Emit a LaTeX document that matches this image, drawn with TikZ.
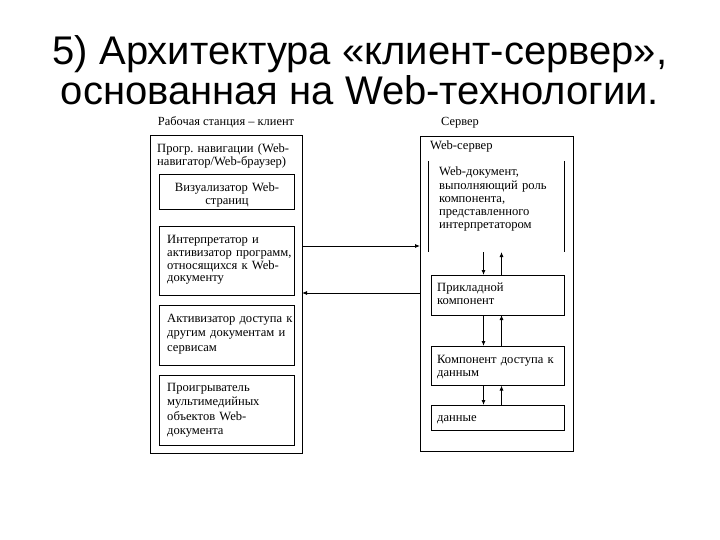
\documentclass[tikz,border=0pt]{standalone}
\usepackage{fontspec}
\setmainfont{Liberation Serif}
\newfontfamily\titlefont{Liberation Sans}
\usetikzlibrary{arrows.meta}
\frenchspacing
\tikzset{
  box/.style={draw, line width=0.8pt, inner sep=0pt, outer sep=0pt},
  txt/.style={inner sep=0pt, font=\fontsize{12.6}{#1}\selectfont, text width=180pt, align=left, anchor=base west},
  txt/.default=13,
  lbl/.style={inner sep=0pt, font=\fontsize{12.4}{13}\selectfont, anchor=base},
  link/.style={line width=0.8pt, -{Latex[length=5pt,width=4pt]}},
  ttl/.style={font=\titlefont\fontsize{40}{40}\selectfont, inner sep=0pt, anchor=base},
}
\begin{document}
\begin{tikzpicture}[x=1pt,y=-1pt]
\useasboundingbox (0,0) rectangle (720,540);
% title
\node[ttl] (t1) at (360,65) {5) Архитектура «клиент-сервер»,};
\node[ttl] (t2) at (360,105) {основанная на Web-технологии.};
% client
\node[lbl] (clabel) at (226,126) {Рабочая станция – клиент};
\node[box, minimum width=152pt, minimum height=318pt] (client) at (226,294) {};
\node[txt] (nav) at (157,153) {\frenchspacing Прогр. навигации (Web-\\навигатор/Web-браузер)};
\node[box, minimum width=135pt, minimum height=35pt] (vis) at (227,191.5) {};
\node[txt, text width=135pt, align=center, anchor=base] (visT) at (227,192) {Визуализатор Web-\\страниц};
\node[box, minimum width=135pt, minimum height=69pt] (interp) at (227,260.5) {};
\node[txt=12.8] (interpT) at (167,243.5) {Интерпретатор и\\активизатор программ,\\относящихся к Web-\\документу};
\node[box, minimum width=135pt, minimum height=60pt] (act) at (227,335) {};
\node[txt=14.5] (actT) at (167,322) {Активизатор доступа к\\другим документам и\\сервисам};
\node[box, minimum width=135pt, minimum height=70pt] (player) at (227,410) {};
\node[txt=14.4] (playerT) at (167,391.5) {Проигрыватель\\мультимедийных\\объектов Web-\\документа};
% server
\node[lbl] (slabel) at (460,126) {Сервер};
\node[box, minimum width=153pt, minimum height=315pt] (server) at (496.5,293.5) {};
\node[txt] (wsrv) at (430,149.5) {Web-сервер};
\coordinate (wdocTL) at (428,161);
\coordinate (wdocBL) at (428,252);
\coordinate (wdocTR) at (564,161);
\coordinate (wdocBR) at (564,252);
\node[txt=13.2] (wdoc) at (439,176) {Web-документ,\\выполняющий роль\\компонента,\\представленного\\интерпретатором};
\draw[line width=0.8pt] (wdocTL) -- (wdocBL);
\draw[line width=0.8pt] (wdocTR) -- (wdocBR);
\node[box, minimum width=133pt, minimum height=40pt] (app) at (497.5,295) {};
\node[txt=13.3] (appT) at (437,291.5) {Прикладной\\компонент};
\node[box, minimum width=133pt, minimum height=39.5pt] (dacc) at (497.5,365.75) {};
\node[txt=13.3] (daccT) at (437,363.5) {Компонент доступа к\\данным};
\node[box, minimum width=133pt, minimum height=25.5pt] (data) at (497.5,417.75) {};
\node[txt] (dataT) at (437,421.5) {данные};
% vertical arrows
\coordinate (dx) at (483.5,0);
\coordinate (ux) at (501.5,0);
\draw[link] (wdocBL -| dx) -- (app.north -| dx);
\draw[link] (app.north -| ux) -- (wdocBL -| ux);
\draw[link] (app.south -| dx) -- (dacc.north -| dx);
\draw[link] (dacc.north -| ux) -- (app.south -| ux);
\draw[link] (dacc.south -| dx) -- (data.north -| dx);
\draw[link] (data.north -| ux) -- (dacc.south -| ux);
% horizontal arrows
\coordinate (y1) at (0,246);
\coordinate (y2) at (0,293);
\draw[link] (client.east |- y1) -- (server.west |- y1);
\draw[link] (server.west |- y2) -- (client.east |- y2);
\end{tikzpicture}
\end{document}
